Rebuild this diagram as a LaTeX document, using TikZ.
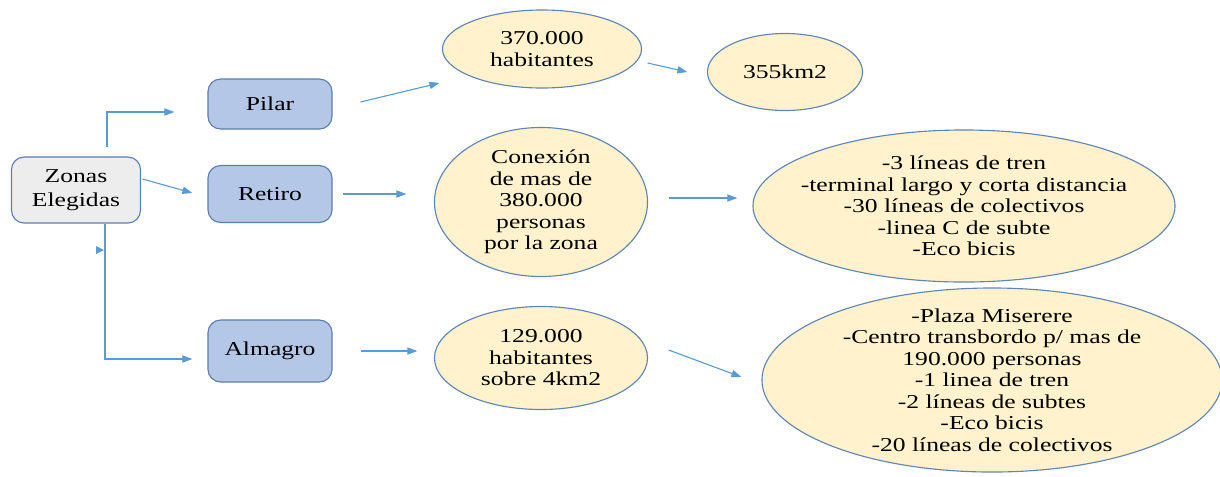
\documentclass[tikz,border=0pt]{standalone}
\usepackage{fontspec}
\setmainfont{Liberation Serif}[FakeStretch=1.3]
\usepackage{tikz}
\usetikzlibrary{shapes.geometric, arrows.meta, positioning, calc}
\definecolor{zonefill}{HTML}{EDEDED}
\definecolor{boxfill}{HTML}{B4C7E7}
\definecolor{boxline}{HTML}{5B7DB1}
\definecolor{blobfill}{HTML}{FFF2CC}
\definecolor{blobline}{HTML}{5F84B5}
\definecolor{linkblue}{HTML}{5B9BD5}
\newcommand{\zonetext}{\rmfamily\fontsize{14}{17}\selectfont\lineskiplimit=-20pt\relax}
\newcommand{\blobtext}{\rmfamily\fontsize{14}{15.3}\selectfont\lineskiplimit=-20pt\relax}

\begin{document}
\begin{tikzpicture}[x=0.025cm, y=0.025cm,
    zone/.style={rectangle, rounded corners=9pt, draw=boxline, line width=0.8pt, fill=#1,
                 minimum width=3.1cm, minimum height=1.25cm, align=center, inner sep=0pt,
                 font=\zonetext},
    blob/.style={ellipse, draw=blobline, line width=0.8pt, fill=blobfill, align=center,
                 inner sep=-30pt, font=\blobtext},
    link/.style={-{Triangle[length=2.5mm, width=1.8mm]}, line width=0.8pt, color=linkblue}
]
\useasboundingbox (0,0) rectangle (1220,-476);

\node[zone=zonefill, minimum width=3.225cm, minimum height=1.65cm] (zonas) at (76,-190) {Zonas\\Elegidas};
\node[zone=boxfill]                        (pilar)   at (270,-104) {Pilar};
\node[zone=boxfill, minimum height=1.425cm] (retiro)  at (270,-194) {Retiro};
\node[zone=boxfill, minimum height=1.55cm]  (almagro) at (270,-351) {Almagro};

\node[blob, minimum width=4.975cm, minimum height=1.95cm]  (hab370)   at (542,-49)  {370.000\\habitantes};
\node[blob, minimum width=3.875cm, minimum height=1.925cm] (km355)    at (785,-72)  {355km2};
\node[blob, minimum width=5.325cm, minimum height=3.725cm] (conexion) at (541,-202) {Conexión\\de mas de\\380.000\\personas\\por la zona};
\node[blob, minimum width=10.55cm, minimum height=3.8cm]   (retinfo)  at (964,-206) {-3 líneas de tren\\-terminal largo y corta distancia\\-30 líneas de colectivos\\-linea C de subte\\-Eco bicis};
\node[blob, minimum width=5.325cm, minimum height=2.575cm] (hab129)   at (541,-358) {129.000\\habitantes\\sobre 4km2};
\node[blob, minimum width=11.5cm, minimum height=4.6cm]    (alminfo)  at (992,-380) {-Plaza Miserere\\-Centro transbordo p/ mas de\\190.000 personas\\-1 linea de tren\\-2 líneas de subtes\\-Eco bicis\\-20 líneas de colectivos};

\draw[link] ($(zonas.north)+(31,9)$)   |- ($(pilar.west)+(-33,-8)$);
\draw[link] ($(zonas.east)+(1.5,11)$)  -- ($(retiro.west)+(-15,1)$);
\draw[link] ($(zonas.south)+(29,0)$)   |- ($(almagro.west)+(-15,-8)$);
\fill[linkblue] (96,-246) -- (104,-250) -- (96,-254) -- cycle;

\draw[link] ($(pilar.east)+(28,2)$)      -- ($(hab370.west)+(-2.5,-34)$);
\draw[link] ($(hab370.east)+(5.5,-14)$)  -- ($(km355.west)+(-19.5,0)$);
\draw[link] ($(retiro.east)+(10,0)$)     -- ($(conexion.west)+(-27.5,8)$);
\draw[link] ($(conexion.east)+(20.5,4)$) -- ($(retinfo.west)+(-15,8)$);
\draw[link] ($(almagro.east)+(28,0)$)    -- ($(hab129.west)+(-16.5,7)$);
\draw[link] ($(hab129.east)+(20.5,8)$)   -- ($(alminfo.west)+(-20,3)$);
\end{tikzpicture}
\end{document}
